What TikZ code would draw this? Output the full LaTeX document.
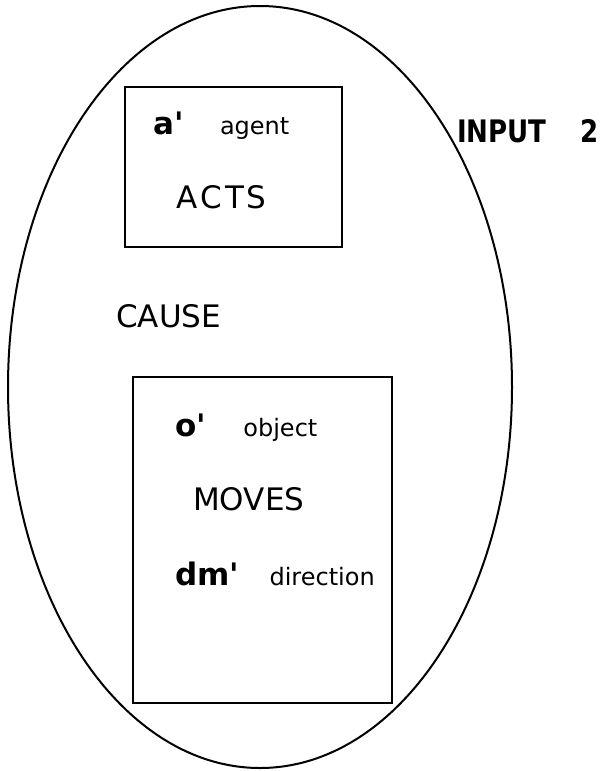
\documentclass[tikz,border=0pt]{standalone}
\usepackage{fontspec}
\setmainfont{DejaVu Sans}[Ligatures=TeXOff]
\usetikzlibrary{positioning}
\usetikzlibrary{shapes.geometric}

\begin{document}
\begin{tikzpicture}[x=1pt, y=-1pt,
                          bignode/.style={ellipse, draw, line width=2pt, inner sep=0pt},
                          framebox/.style={rectangle, draw, line width=2pt, inner sep=0pt},
                          rolenode/.style={font=\fontsize{31}{36}\selectfont\bfseries, inner sep=0pt, anchor=base west},
                          capnode/.style={font=\fontsize{31}{36}\selectfont, inner sep=0pt, anchor=base west},
                          wordnode/.style={font=\fontsize{24}{28}\selectfont, inner sep=0pt},
                      ]
                      \useasboundingbox (0,0) rectangle (603,771);
                      %Nodes
                      \node[bignode, minimum width=504pt, minimum height=762pt]   (input)     at (260,387)    {};
                      \node[framebox, minimum width=217pt, minimum height=160pt]  (acts_box)  at (233.5,167)  {};
                      \node[framebox, minimum width=259pt, minimum height=326pt]  (moves_box) at (262.5,540)  {};

                      \node[rolenode, xscale=0.84, transform shape]   (input_lbl)     at (457,142)    {INPUT\hspace{1.3em}2};
                      \node[rolenode]     (a_prime)       at (153,134)    {a'};
                      \node[wordnode]     (agent)         [base right=36pt of a_prime]    {agent};
                      \node[capnode]      (acts)          at (176,208)    {A\kern3pt C\kern3pt T\kern3pt S};
                      \node[capnode]      (cause)         at (116,327)    {CAUSE};
                      \node[rolenode]     (o_prime)       at (175,436)    {o'};
                      \node[wordnode]     (object)        [base right=37pt of o_prime]    {object};
                      \node[capnode]      (moves)         at (193,510)    {MOVES};
                      \node[rolenode]     (dm_prime)      at (175,585)    {dm'};
                      \node[wordnode]     (direction)     [base right=30pt of dm_prime]   {direction};
                  \end{tikzpicture}
\end{document}
